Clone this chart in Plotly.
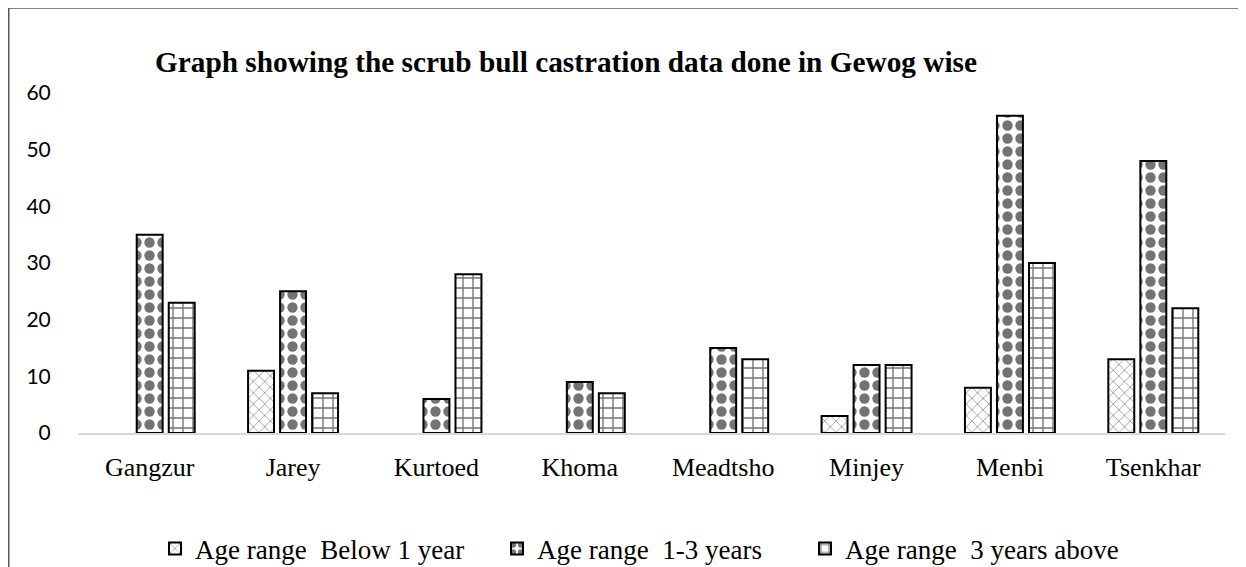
import plotly.graph_objects as go

gewogs = ["Gangzur", "Jarey", "Kurtoed", "Khoma", "Meadtsho", "Minjey", "Menbi", "Tsenkhar"]
below_1_year = [0, 11, 0, 0, 0, 3, 8, 13]
years_1_3 = [35, 25, 6, 9, 15, 12, 56, 48]
years_3_above = [23, 7, 28, 7, 13, 12, 30, 22]

series_names = ["Age range\u00a0 Below 1 year", "Age range\u00a0 1-3 years", "Age range\u00a0 3 years above"]

SERIF = "Liberation Serif, Times New Roman, serif"
GRAY = "#737373"

# the page places the figure 8px in from the top-left corner
OFF = 8
W, H = 1246 - OFF, 567 - OFF

def fx(p):  # screen px -> figure px
    return p - OFF

def fy(p):
    return p - OFF

L, T = fx(78), fy(93)
R, B = W - fx(1225), H - fy(433)
PW, PH = W - L - R, H - T - B

def px_x(p):  # figure px -> paper
    return (p - L) / PW

def px_y(p):
    return (H - B - p) / PH

def outline(vals):
    # no visible outline for empty (zero) bars
    return [0 if v == 0 else 2 for v in vals]

patterns = [
    dict(shape="x", fgcolor=GRAY, bgcolor="white", fgopacity=1, size=8, solidity=0.15),
    dict(shape=".", fgcolor=GRAY, bgcolor="white", fgopacity=1, size=13, solidity=0.5),
    dict(shape="+", fgcolor=GRAY, bgcolor="white", fgopacity=1, size=10, solidity=0.25),
]
series = [below_1_year, years_1_3, years_3_above]
legends = ["legend", "legend2", "legend3"]

fig = go.Figure()
for i, vals in enumerate(series):
    fig.add_trace(go.Bar(
        x=gewogs, y=vals, name=series_names[i], legend=legends[i],
        offsetgroup=str(i), showlegend=False,
        marker=dict(color="white", line=dict(color="black", width=outline(vals)),
                    pattern=patterns[i]),
    ))
    # legend entry (same style, outlined)
    fig.add_trace(go.Bar(
        x=[gewogs[0]], y=[None], name=series_names[i], legend=legends[i],
        offsetgroup=str(i), showlegend=True,
        marker=dict(color="white", line=dict(color="black", width=2),
                    pattern=patterns[i]),
    ))

leg_common = dict(orientation="h", xanchor="left", yanchor="middle", visible=True,
                  font=dict(family=SERIF, size=27, color="black"),
                  bgcolor="rgba(0,0,0,0)", borderwidth=0, xref="container", yref="container")
LEG_Y = 1 - fy(549) / H

fig.update_layout(
    width=W, height=H,
    margin=dict(l=L, r=R, t=T, b=B, autoexpand=False),
    paper_bgcolor="white", plot_bgcolor="white",
    barmode="group", bargap=0.33, bargroupgap=0.19,
    hovermode=False, showlegend=True,
    title=dict(text="<b>Graph showing the scrub bull castration data done in Gewog wise</b>",
               font=dict(family=SERIF, size=29.3, color="black"),
               x=fx(566) / W, xanchor="center", xref="container",
               y=1 - fy(62) / H, yanchor="middle", yref="container"),
    xaxis=dict(showline=True, linecolor="#d9d9d9", linewidth=1.5, showgrid=False,
               ticks="outside", ticklen=10, tickcolor="rgba(0,0,0,0)",
               categoryorder="array", categoryarray=gewogs,
               tickfont=dict(family=SERIF, size=26, color="black")),
    yaxis=dict(range=[0, 60], dtick=10, showgrid=False, zeroline=False, showline=False,
               ticks="outside", ticklen=22, tickcolor="rgba(0,0,0,0)",
               tickfont=dict(family="Lato, Calibri, sans-serif", size=21, color="black")),
    legend=dict(x=fx(155) / W, y=LEG_Y, **leg_common),
    legend2=dict(x=fx(497) / W, y=LEG_Y, **leg_common),
    legend3=dict(x=fx(805) / W, y=LEG_Y, **leg_common),
    shapes=[dict(type="rect", xref="paper", yref="paper",
                 x0=px_x(0.75), y0=px_y(H + 50), x1=px_x(W + 50), y1=px_y(0),
                 line=dict(color="#595959", width=1.5), fillcolor="rgba(0,0,0,0)", layer="below")],
)

fig.write_html("out.html")
